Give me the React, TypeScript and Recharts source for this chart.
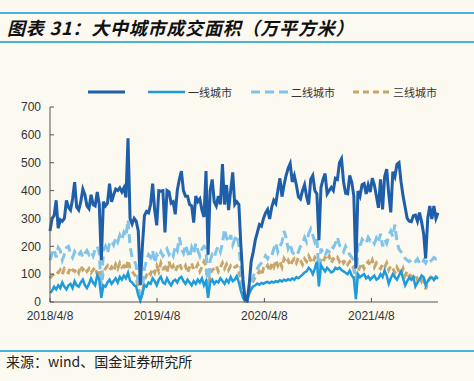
import React, { useEffect } from 'react';
import { LineChart, Line, XAxis, YAxis, Legend } from 'recharts';

// weekly, starting 2018/4/8
const seriesNames = ['', '一线城市', '二线城市', '三线城市'];
const xTickDays = [0, 365, 731, 1096];
const xTickLabels = ['2018/4/8', '2019/4/8', '2020/4/8', '2021/4/8'];
const yTicks = [0, 100, 200, 300, 400, 500, 600, 700];

const totalArea = [
  255, 300, 310, 365, 265, 295, 290, 300, 365, 340,
  330, 370, 430, 340, 330, 360, 405, 385, 345, 335,
  385, 350, 345, 395, 350, 150, 360, 345, 355, 425,
  360, 385, 405, 400, 410, 395, 410, 375, 588, 300,
  280, 300, 290, 255, 60, 200, 310, 325, 320, 350,
  425, 330, 275, 400, 398, 400, 250, 400, 395, 355,
  360, 315, 400, 440, 470, 400, 380, 380, 350, 345,
  285, 380, 360, 370, 330, 305, 470, 170, 400, 440,
  360, 345, 380, 350, 495, 350, 420, 330, 400, 465,
  350, 360, 350, 200, 80, 10, 5, 60, 146, 180,
  222, 250, 278, 272, 300, 320, 332, 298, 340, 365,
  354, 400, 444, 378, 420, 454, 480, 497, 431, 454,
  420, 378, 370, 400, 421, 378, 350, 440, 454, 400,
  388, 222, 411, 440, 461, 388, 400, 411, 400, 444,
  440, 500, 514, 431, 390, 388, 454, 430, 380, 120,
  398, 380, 421, 425, 388, 420, 395, 444, 420, 380,
  338, 440, 332, 450, 477, 388, 322, 467, 450, 494,
  500, 431, 380, 340, 300, 290, 288, 310, 312, 290,
  321, 288, 245, 156, 300, 345, 298, 345, 300, 320,
];

const tier1 = [
  33, 40, 55, 45, 60, 50, 70, 55, 45, 60,
  65, 50, 75, 60, 55, 70, 80, 60, 50, 65,
  85, 70, 60, 95, 80, 15, 60, 55, 70, 80,
  65, 75, 85, 70, 90, 80, 95, 85, 105, 75,
  70, 60, 55, 25, 5, 30, 60, 55, 70, 65,
  85, 75, 60, 80, 90, 70, 65, 85, 70, 60,
  75, 80, 70, 85, 90, 75, 65, 80, 70, 60,
  75, 65, 80, 70, 85, 60, 75, 15, 70, 80,
  65, 75, 70, 85, 75, 65, 80, 70, 90, 75,
  80, 93, 70, 40, 15, 3, 2, 30, 45, 56,
  60, 66, 62, 68, 65, 70, 72, 68, 73, 70,
  75, 72, 78, 74, 80, 76, 82, 78, 85, 80,
  89, 85, 92, 98, 106, 110, 123, 115, 100, 120,
  145, 56, 132, 120, 110, 123, 115, 106, 110, 123,
  118, 123, 115, 110, 105, 100, 112, 95, 85, 10,
  100, 89, 95, 100, 85, 92, 80, 88, 95, 80,
  85, 100, 90, 113, 95, 66, 85, 100, 90, 80,
  95, 110, 85, 60, 75, 88, 80, 90, 56, 70,
  80, 95, 89, 60, 75, 85, 88, 80, 90, 83,
];

const tier2 = [
  150, 175, 190, 160, 195, 185, 150, 170, 195, 200,
  175, 160, 180, 165, 170, 180, 160, 175, 185, 170,
  180, 165, 190, 200, 175, 40, 185, 200, 175, 210,
  220, 205, 230, 215, 240, 225, 250, 235, 295, 200,
  160, 150, 130, 60, 5, 40, 120, 150, 170, 160,
  185, 140, 170, 160, 180, 165, 175, 190, 170, 180,
  165, 200, 185, 232, 190, 175, 205, 180, 160, 195,
  175, 210, 185, 165, 190, 200, 193, 30, 150, 170,
  160, 185, 200, 180, 210, 262, 230, 215, 240, 205,
  225, 240, 205, 120, 30, 5, 5, 40, 66, 90,
  113, 120, 132, 140, 150, 166, 155, 170, 166, 190,
  212, 180, 200, 215, 255, 230, 192, 210, 180, 170,
  166, 180, 199, 210, 232, 215, 245, 262, 240, 215,
  230, 100, 192, 175, 166, 185, 180, 200, 195, 210,
  232, 205, 190, 180, 200, 185, 170, 160, 150, 30,
  212, 200, 225, 215, 210, 232, 220, 225, 210, 230,
  215, 245, 200, 225, 210, 240, 255, 235, 278, 215,
  190, 180, 170, 156, 150, 145, 150, 140, 145, 155,
  140, 135, 150, 140, 155, 145, 150, 160, 155, 162,
];

const tier3 = [
  85, 95, 100, 110, 105, 115, 100, 120, 110, 105,
  125, 115, 110, 120, 105, 130, 115, 125, 110, 120,
  105, 115, 125, 100, 115, 60, 110, 120, 130, 115,
  125, 110, 135, 120, 140, 125, 130, 115, 150, 120,
  110, 100, 90, 40, 10, 30, 80, 95, 110, 100,
  120, 105, 130, 110, 140, 120, 125, 105, 145, 115,
  130, 110, 125, 140, 120, 115, 130, 105, 125, 140,
  115, 120, 135, 110, 125, 145, 130, 40, 100, 115,
  120, 130, 110, 125, 140, 120, 135, 115, 130, 120,
  125, 130, 110, 80, 30, 5, 10, 40, 60, 75,
  90, 100, 110, 95, 120, 115, 130, 110, 140, 125,
  150, 130, 145, 125, 155, 140, 150, 130, 145, 155,
  140, 160, 150, 135, 155, 145, 165, 150, 140, 160,
  150, 120, 155, 145, 160, 150, 165, 140, 155, 150,
  160, 145, 155, 140, 150, 135, 145, 130, 120, 50,
  110, 125, 140, 120, 135, 145, 130, 150, 125, 140,
  130, 120, 135, 125, 140, 115, 130, 120, 105, 125,
  110, 100, 120, 95, 110, 90, 105, 85, 100, 80,
  95, 75, 90, 46, 70, 85, 95, 80, 90, 88,
];

const rows = totalArea.map((v, i) => ({
  day: i * 7,
  total: v,
  tier1: tier1[i],
  tier2: tier2[i],
  tier3: tier3[i],
}));

const BG = '#FCF9F1';
const RULE = '#45B3E0';
const AXIS_FONT = '"Liberation Sans Narrow", "Liberation Sans", Arial, sans-serif';
const CJK_FONT = '"Noto Sans CJK SC", sans-serif';

const series = [
  { key: 'total', name: seriesNames[0], color: '#1F5EA8', width: 3, dash: undefined as string | undefined, left: 88 },
  { key: 'tier1', name: seriesNames[1], color: '#1E9BDB', width: 2.5, dash: undefined, left: 148 },
  { key: 'tier2', name: seriesNames[2], color: '#80C4EA', width: 3, dash: '9 5', left: 251 },
  { key: 'tier3', name: seriesNames[3], color: '#C6A66C', width: 3, dash: '6 4', left: 353 },
];

const renderLegend = () => (
  <div style={{ position: 'relative', height: 16, width: 474 }}>
    {series.map(s => (
      <div
        key={s.key}
        style={{ position: 'absolute', left: s.left, top: 0, display: 'flex', alignItems: 'center', height: 16 }}
      >
        <svg width={37} height={6}>
          <line x1={0} y1={3} x2={37} y2={3} stroke={s.color} strokeWidth={s.width} strokeDasharray={s.dash} />
        </svg>
        {s.name && (
          <span style={{ marginLeft: 3, fontSize: 11, color: '#333', fontFamily: CJK_FONT, lineHeight: '16px' }}>
            {s.name}
          </span>
        )}
      </div>
    ))}
  </div>
);

const App: React.FC = () => {
  useEffect(() => {
    document.body.style.margin = '0';
    document.body.style.background = BG;
  }, []);

  return (
    <div style={{ position: 'relative', width: 474, height: 381, background: BG, overflow: 'hidden' }}>
      <div style={{ position: 'absolute', left: 0, top: 12, width: 474, height: 2, background: RULE }} />
      <div
        style={{
          position: 'absolute',
          left: 7,
          top: 14,
          fontFamily: CJK_FONT,
          fontWeight: 700,
          fontStyle: 'italic',
          fontSize: 18,
          letterSpacing: 0.8,
          lineHeight: '26px',
          color: '#111',
        }}
      >
        图表 31：大中城市成交面积（万平方米）
      </div>
      <div style={{ position: 'absolute', left: 0, top: 41, width: 474, height: 2, background: RULE }} />

      <div style={{ position: 'absolute', left: 0, top: 0 }}>
        <LineChart width={474} height={340} data={rows} margin={{ top: 91, right: 36, left: 0, bottom: 8 }}>
          <XAxis
            dataKey="day"
            type="number"
            domain={[0, 1323]}
            ticks={xTickDays}
            tickFormatter={(v: number) => xTickLabels[xTickDays.indexOf(v)] ?? ''}
            stroke="#555"
            tickSize={-4}
            tickMargin={13}
            height={30}
            tick={{ fontSize: 12, fill: '#333', fontFamily: AXIS_FONT }}
          />
          <YAxis
            domain={[0, 700]}
            ticks={yTicks}
            width={50}
            stroke="#555"
            tickSize={-4}
            tickMargin={13}
            tick={{ fontSize: 12, fill: '#333', fontFamily: AXIS_FONT }}
          />
          <Legend
            verticalAlign="top"
            content={renderLegend}
            wrapperStyle={{ position: 'absolute', top: 84, left: 0, width: 474, height: 16 }}
          />
          <Line
            dataKey="tier3"
            name={seriesNames[3]}
            type="linear"
            stroke={series[3].color}
            strokeWidth={3}
            strokeDasharray="6 4"
            dot={false}
            isAnimationActive={false}
          />
          <Line
            dataKey="tier2"
            name={seriesNames[2]}
            type="linear"
            stroke={series[2].color}
            strokeWidth={3}
            strokeDasharray="9 5"
            dot={false}
            isAnimationActive={false}
          />
          <Line
            dataKey="tier1"
            name={seriesNames[1]}
            type="linear"
            stroke={series[1].color}
            strokeWidth={2.5}
            dot={false}
            isAnimationActive={false}
          />
          <Line
            dataKey="total"
            name="合计"
            type="linear"
            stroke={series[0].color}
            strokeWidth={3}
            dot={false}
            isAnimationActive={false}
          />
        </LineChart>
      </div>

      <div style={{ position: 'absolute', left: 0, top: 350, width: 474, height: 2, background: RULE }} />
      <div
        style={{
          position: 'absolute',
          left: 6,
          top: 352,
          fontFamily: CJK_FONT,
          fontSize: 14,
          lineHeight: '18px',
          color: '#222',
        }}
      >
        来源：wind、国金证券研究所
      </div>
    </div>
  );
};

export default App;
